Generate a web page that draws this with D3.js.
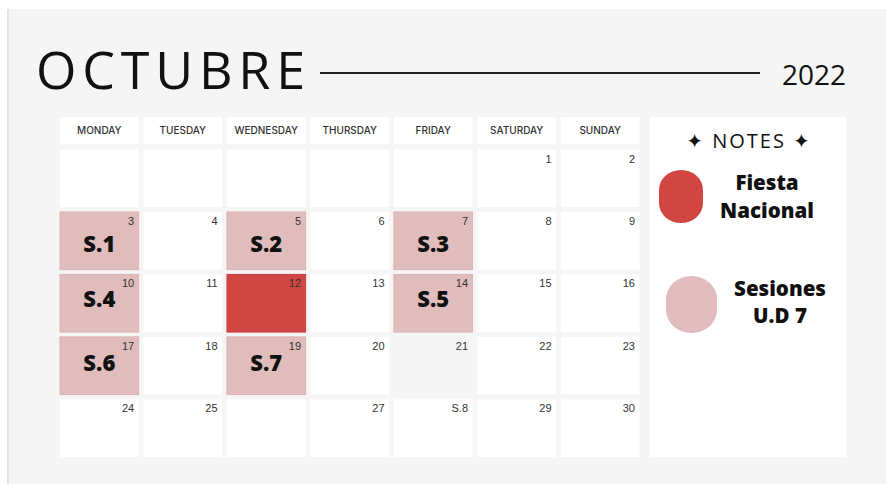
<!DOCTYPE html>
<html>
<head>
<meta charset="utf-8">
<script src="https://cdn.jsdelivr.net/npm/d3@7"></script>
<style>
  html, body { margin: 0; padding: 0; background: #ffffff; }
  svg { display: block; }
</style>
</head>
<body>
<div id="chart"></div>
<script>
// ---- data ----
const monthTitle = "OCTUBRE";
const yearLabel = "2022";
const weekdays = ["MONDAY", "TUESDAY", "WEDNESDAY", "THURSDAY", "FRIDAY", "SATURDAY", "SUNDAY"];
// 35 grid cells, week by week (Monday first); "" = no number shown
const cellLabels = [
  "", "", "", "", "", "1", "2",
  "3", "4", "5", "6", "7", "8", "9",
  "10", "11", "12", "13", "14", "15", "16",
  "17", "18", "19", "20", "21", "22", "23",
  "24", "25", "", "27", "S.8", "29", "30"
];
const sessionCells = [7, 9, 11, 14, 18, 21, 23];      // cell indexes of days 3,5,7,10,14,17,19
const sessionLabels = ["S.1", "S.2", "S.3", "S.4", "S.5", "S.6", "S.7"];
const holidayCells = [16];                             // day 12
const blankCells = [25];                               // day 21 (no white card)
const legendLabels = [["Fiesta", "Nacional"], ["Sesiones", "U.D 7"]];
const legendKinds = ["holiday", "session"];

// ---- styles ----
const W = 886, H = 484;
const colors = { bg: "#f5f5f5", card: "#ffffff", holiday: "#d14542", session: "#e0bcbc", text: "#111111", num: "#333333" };

const svg = d3.select("#chart").append("svg").attr("width", W).attr("height", H);

svg.append("rect").attr("x", 8).attr("y", 9).attr("width", W - 8).attr("height", H - 9).attr("fill", colors.bg);
svg.append("line").attr("x1", 8).attr("x2", 8).attr("y1", 9).attr("y2", H).attr("stroke", "#e3e3e3").attr("stroke-width", 2);

// Title
svg.append("text").attr("x", 36).attr("y", 89)
  .attr("font-family", "'Open Sans', sans-serif").attr("font-size", 52).attr("font-weight", 400)
  .attr("letter-spacing", "5.8px").attr("fill", "#111").text(monthTitle);
svg.append("line").attr("x1", 320).attr("x2", 760).attr("y1", 73).attr("y2", 73)
  .attr("stroke", "#222").attr("stroke-width", 2);
svg.append("text").attr("x", 846).attr("y", 85).attr("text-anchor", "end")
  .attr("font-family", "'Open Sans', sans-serif").attr("font-size", 28).attr("fill", "#111").text(yearLabel);

// Scales
const x = d3.scaleBand().domain(d3.range(7)).range([60, 639.5]).paddingInner(0.058);
const y = d3.scaleBand().domain(d3.range(5)).range([149.5, 457]).paddingInner(0.077);

// Header
const hdr = svg.append("g");
hdr.selectAll("rect").data(weekdays).join("rect")
  .attr("x", (d, i) => x(i)).attr("y", 117).attr("width", x.bandwidth()).attr("height", 27)
  .attr("fill", colors.card);
hdr.selectAll("text").data(weekdays).join("text")
  .attr("x", (d, i) => x(i) + x.bandwidth() / 2).attr("y", 134)
  .attr("text-anchor", "middle").attr("font-family", "Inter, 'Liberation Sans', sans-serif")
  .attr("font-size", 10).attr("font-weight", 500).attr("fill", "#333").text(d => d);

// Cells
const cells = cellLabels.map((lab, i) => {
  let kind = "normal";
  if (sessionCells.includes(i)) kind = "session";
  if (holidayCells.includes(i)) kind = "holiday";
  if (blankCells.includes(i)) kind = "blank";
  return { i, lab, col: i % 7, row: Math.floor(i / 7), kind };
});
const fillFor = k => k === "session" ? colors.session : k === "holiday" ? colors.holiday : k === "blank" ? colors.bg : colors.card;

const cg = svg.append("g");
cg.selectAll("rect").data(cells).join("rect")
  .attr("x", d => x(d.col)).attr("y", d => y(d.row))
  .attr("width", x.bandwidth()).attr("height", y.bandwidth())
  .attr("fill", d => fillFor(d.kind))
  .attr("stroke", d => d.kind === "session" ? "#dcb3b3" : d.kind === "holiday" ? "#cc3f3c" : "none")
  .attr("stroke-width", 1);
cg.selectAll("text").data(cells).join("text")
  .attr("x", d => x(d.col) + x.bandwidth() - 4.5).attr("y", d => y(d.row) + 13)
  .attr("text-anchor", "end").attr("font-family", "'Liberation Sans', Arial, sans-serif")
  .attr("font-size", 11).attr("fill", colors.num).text(d => d.lab);

// Session labels
svg.append("g").selectAll("text").data(sessionCells).join("text")
  .attr("x", c => x(c % 7) + x.bandwidth() / 2)
  .attr("y", c => { const r = Math.floor(c / 7); return y(r) + (r === 1 ? 40 : r === 2 ? 33 : 34); })
  .attr("text-anchor", "middle").attr("font-family", "'Open Sans', sans-serif")
  .attr("font-size", 22).attr("font-weight", 800).attr("fill", colors.text)
  .text((c, i) => sessionLabels[i]);

// Notes panel
svg.append("rect").attr("x", 650).attr("y", 117).attr("width", 196).attr("height", 340).attr("fill", colors.card);
svg.append("text").attr("x", 749).attr("y", 148).attr("text-anchor", "middle")
  .attr("font-family", "'Open Sans', 'DejaVu Sans', sans-serif").attr("font-size", 20)
  .attr("letter-spacing", "2px").attr("fill", "#111").text("✦ NOTES ✦");

const blobs = [
  { x: 659, y: 170, w: 44, h: 53, cx: 767, y1: 190, y2: 218 },
  { x: 666, y: 276, w: 51, h: 57, cx: 780, y1: 296, y2: 323 }
];
const lg = svg.append("g");
lg.selectAll("rect").data(legendKinds).join("rect")
  .attr("x", (d, i) => blobs[i].x).attr("y", (d, i) => blobs[i].y)
  .attr("width", (d, i) => blobs[i].w).attr("height", (d, i) => blobs[i].h)
  .attr("rx", (d, i) => blobs[i].w / 2).attr("ry", (d, i) => blobs[i].w / 2.2)
  .attr("fill", d => colors[d]);
legendLabels.forEach((lines, i) => {
  lines.forEach((t, j) => {
    lg.append("text").attr("x", blobs[i].cx).attr("y", j === 0 ? blobs[i].y1 : blobs[i].y2)
      .attr("text-anchor", "middle").attr("font-family", "'Open Sans', sans-serif")
      .attr("font-size", 20.5).attr("font-weight", 800).attr("fill", colors.text).text(t);
  });
});
</script>
</body>
</html>
